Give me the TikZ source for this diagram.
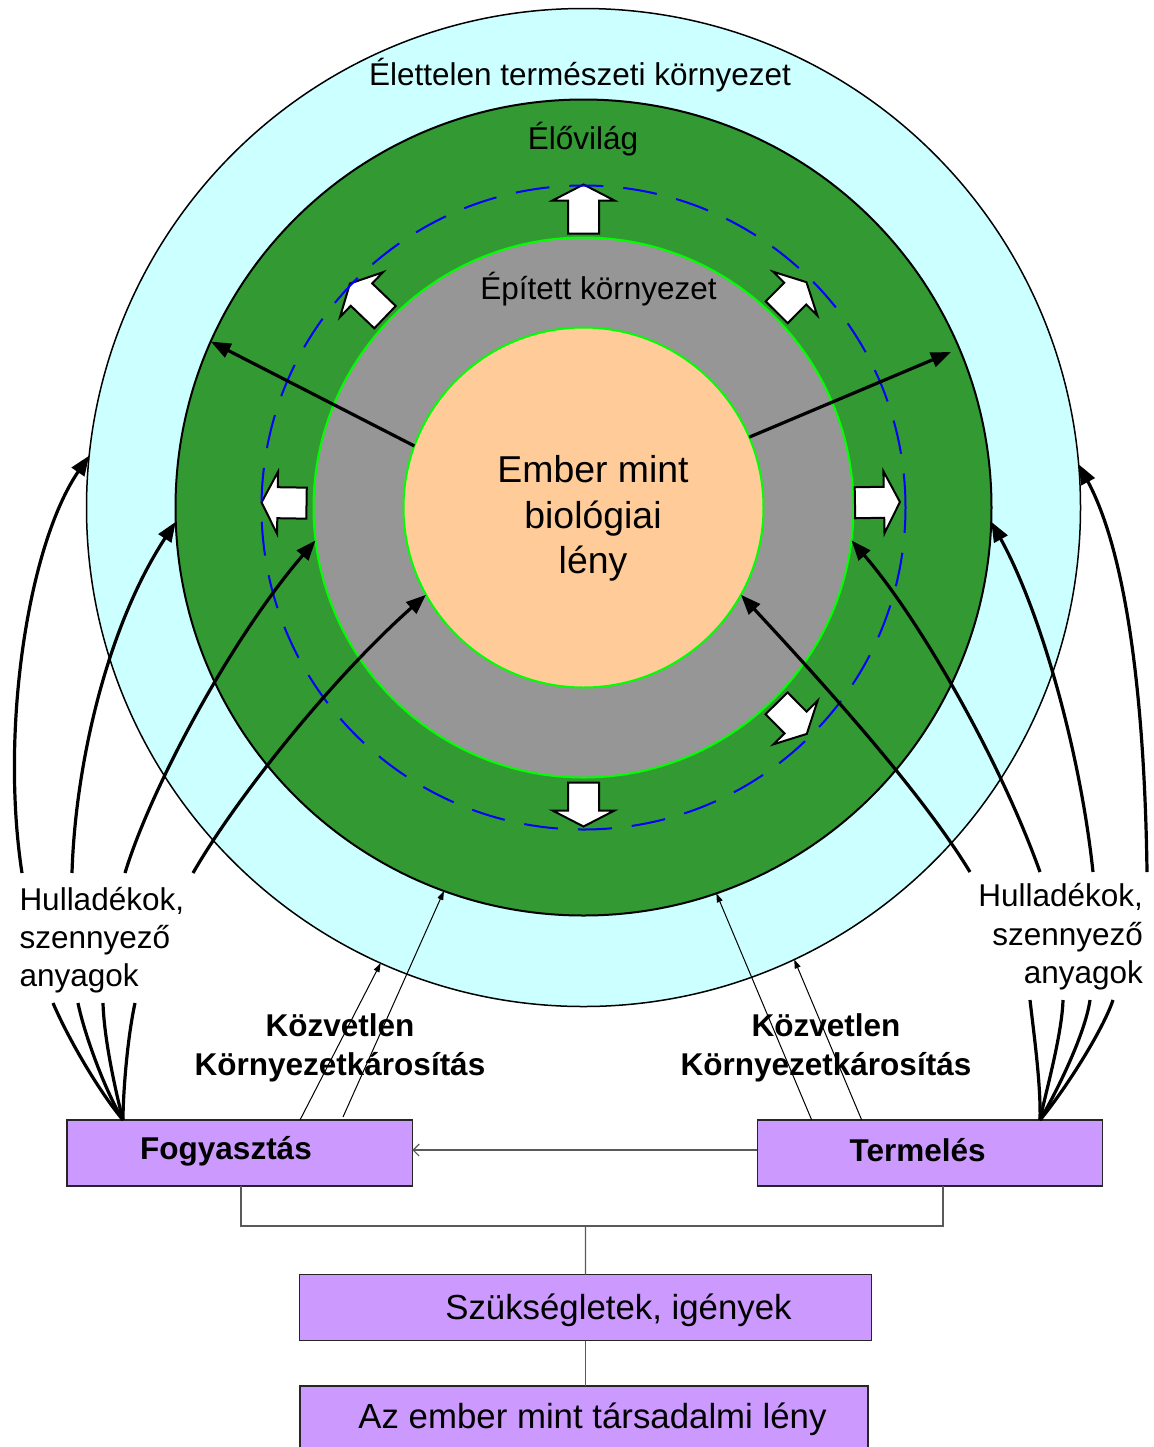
\documentclass[tikz,border=0pt]{standalone}
\usepackage{fontspec}
\setmainfont{Liberation Sans}
\usetikzlibrary{arrows.meta,shapes.geometric,calc}
\definecolor{lcyan}{HTML}{CCFFFF}
\definecolor{dgreen}{HTML}{339933}
\definecolor{mgray}{HTML}{969696}
\definecolor{peach}{HTML}{FFCC99}
\definecolor{lavender}{HTML}{CC99FF}
\definecolor{limeg}{HTML}{00FF00}
\newcommand\blockarr[3]{%
  \begin{scope}[shift={(ctr)},rotate=#1]
    \draw[barrow] (#2,-15.5) -- ({#3-16},-15.5) -- ({#3-16},-31) -- (#3,0)
      -- ({#3-16},31) -- ({#3-16},15.5) -- (#2,15.5) -- cycle;
  \end{scope}}
\begin{document}
\begin{tikzpicture}[x=0.5pt,y=-0.5pt,
  every node/.style={inner sep=0pt, outer sep=0pt},
  ring/.style={circle, minimum size=#1},
  txt/.style={font=\fontsize{15.75pt}{19.2pt}\selectfont},
  btxt/.style={font=\fontsize{15.75pt}{19.2pt}\selectfont\bfseries},
  bigtxt/.style={font=\fontsize{18.7pt}{22.65pt}\selectfont},
  boxtxt/.style={font=\fontsize{17.4pt}{21pt}\selectfont},
  box/.style={draw=black!85, line width=0.8pt, fill=lavender, minimum height=33pt},
  barrow/.style={draw=black, line width=1pt, fill=white, line join=miter},
  thickarr/.style={line width=1.6pt, -{Triangle[length=10pt,width=7.5pt]}},
  thinarr/.style={line width=0.5pt, -{Triangle[length=4.5pt,width=3pt]}},
  waste/.style={line width=1.6pt},
  conn/.style={draw=black!65, line width=0.6pt}
]
\useasboundingbox (0,0) rectangle (1153,1447);
\coordinate (ctr) at (583.5,507.5);

% rings
\node[ellipse, draw=black, line width=0.75pt, fill=lcyan, minimum width=497pt, minimum height=499pt] (outer) at (ctr) {};
\node[ring=408pt, draw=black, line width=1pt, fill=dgreen] (green) at (ctr) {};
\node[ring=270pt, draw=limeg, line width=1pt, fill=mgray] (gray) at (ctr) {};
\node[ring=180pt, draw=limeg, line width=1pt, fill=peach] (core) at (ctr) {};

% white block arrows
\blockarr{90}{274}{323}
\blockarr{136.2}{275}{323.6}
\blockarr{45.3}{274.7}{317}
\blockarr{1}{271.5}{316.5}
\blockarr{179.1}{277}{322}
\blockarr{-45.4}{275}{318}
\blockarr{-90}{275}{319}

\node[ring=322pt, draw=blue, line width=1pt, dash pattern=on 17pt off 10pt] (dashring) at (ctr) {};

% boxes
\node[box, minimum width=172.8pt] (fogy) at (239.5,1153) {};
\node[box, minimum width=172.5pt] (term) at (929.8,1153) {};
\node[box, minimum width=285.9pt] (szuk) at (585.4,1307.5) {};
\node[box, minimum width=284pt] (ember) at (584,1419) {};

% box connectors
\coordinate (fb) at (241,1186);
\coordinate (tb) at (943,1186);
\coordinate (jn) at (585.5,1226);
\draw[conn] (fb) |- (jn) -| (tb);
\draw[conn] (jn) -- (szuk.north);
\draw[conn] (szuk.south) -- (szuk.south |- ember.north);
\draw[conn, -{Straight Barb[length=3pt,width=6pt]}] ([yshift=1.5pt]term.west) -- ([yshift=1.5pt]fogy.east);

% thin arrows (Közvetlen környezetkárosítás)
\coordinate (f1) at (300,1120);
\coordinate (f2) at (343,1117);
\coordinate (t1) at (811.7,1120);
\coordinate (t2) at (861.7,1120);
\draw[thinarr] (f1) -- (outer.-114.6);
\draw[thinarr] (f2) -- (green.-110.7);
\draw[thinarr] (t1) -- (green.-71.3);
\draw[thinarr] (t2) -- (outer.-65.9);

% labels
\node[txt, anchor=base] (lelet) at (580,85) {Élettelen természeti környezet};
\node[txt, anchor=base] (lelo) at (583,149.3) {Élővilág};
\node[txt, anchor=base] (lepit) at (598.5,299) {Épített környezet};
\node[bigtxt, anchor=base] (lbio) at (593,482.7) {\begin{tabular}[t]{@{}c@{}}Ember mint\\biológiai\\lény\end{tabular}};
\node[txt, anchor=base west] (lwl) at (19.5,910) {\begin{tabular}[t]{@{}l@{}}Hulladékok,\\szennyező\\anyagok\end{tabular}};
\node[txt, anchor=base east] (lwr) at (1143,906.7) {\begin{tabular}[t]{@{}r@{}}Hulladékok,\\szennyező\\anyagok\end{tabular}};
\node[btxt, anchor=base] (lkl) at (340,1036.7) {\begin{tabular}[t]{@{}c@{}}Közvetlen\\Környezetkárosítás\end{tabular}};
\node[btxt, anchor=base] (lkr) at (826,1036.7) {\begin{tabular}[t]{@{}c@{}}Közvetlen\\Környezetkárosítás\end{tabular}};
\node[btxt, anchor=base] (lfogy) at (226,1159.3) {Fogyasztás};
\node[btxt, anchor=base] (lterm) at (917.6,1161.7) {Termelés};
\node[boxtxt, anchor=base] (lszuk) at (618.5,1319) {Szükségletek, igények};
\node[boxtxt, anchor=base] (lember) at (592.5,1428) {Az ember mint társadalmi lény};

% straight thick arrows from the core
\coordinate (rtip) at (951,352);
\draw[thickarr] (core.160.3) -- (green.156.6);
\draw[thickarr] (core.23.1) -- (rtip);

% waste arrows, left (upper parts)
\coordinate (wl1) at (22,873);
\coordinate (wl2) at (72,873);
\coordinate (wl3) at (125,873);
\coordinate (wl4) at (193,873);
\draw[thickarr] (wl1) .. controls (0,730) and (28,545) .. (outer.174.2);
\draw[thickarr] (wl2) .. controls (75,770) and (105,630) .. (green.182.2);
\draw[thickarr] (wl3) .. controls (150,790) and (230,640) .. (gray.187.6);
\draw[thickarr] (wl4) .. controls (235,800) and (330,680) .. (core.209);
% waste, left (lower parts)
\coordinate (fw) at (123,1120);
\coordinate (bl1) at (53,1003);
\coordinate (bl2) at (78,1003);
\coordinate (bl3) at (103,1003);
\coordinate (bl4) at (135,1003);
\draw[waste] (fw) .. controls (98,1090) and (68,1038) .. (bl1);
\draw[waste] (fw) .. controls (105,1091) and (84,1033) .. (bl2);
\draw[waste] (fw) .. controls (115,1089) and (104,1038) .. (bl3);
\draw[waste] (fw) .. controls (123,1095) and (127,1040) .. (bl4);

% waste arrows, right (upper parts)
\coordinate (wr1) at (1147,872);
\coordinate (wr2) at (1093,872);
\coordinate (wr3) at (1040,872);
\coordinate (wr4) at (970,872);
\draw[thickarr] (wr1) .. controls (1145,720) and (1130,560) .. (outer.5.7);
\draw[thickarr] (wr2) .. controls (1080,750) and (1040,610) .. (green.-2.2);
\draw[thickarr] (wr3) .. controls (1000,760) and (920,620) .. (gray.-7.6);
\draw[thickarr] (wr4) .. controls (920,790) and (820,680) .. (core.-29.4);
% waste, right (lower parts)
\coordinate (tw) at (1040,1120);
\coordinate (br1) at (1030,1000);
\coordinate (br2) at (1063,1000);
\coordinate (br3) at (1090,1000);
\coordinate (br4) at (1113,1000);
\draw[waste] (tw) .. controls (1041,1085) and (1034,1035) .. (br1);
\draw[waste] (tw) .. controls (1045,1095) and (1062,1035) .. (br2);
\draw[waste] (tw) .. controls (1055,1095) and (1085,1035) .. (br3);
\draw[waste] (tw) .. controls (1065,1090) and (1103,1030) .. (br4);
\end{tikzpicture}
\end{document}
